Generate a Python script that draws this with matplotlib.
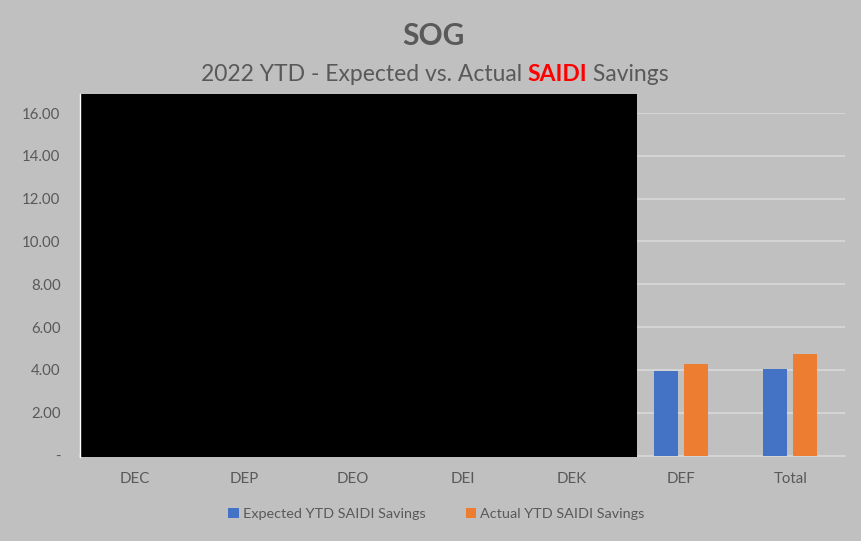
import matplotlib
matplotlib.use("Agg")
import matplotlib.pyplot as plt
import numpy as np
from matplotlib.patches import Rectangle

categories = ["DEC", "DEP", "DEO", "DEI", "DEK", "DEF", "Total"]
# values for the first five regions are hidden under the black box in the source
expected = [np.nan, np.nan, np.nan, np.nan, np.nan, 3.95, 4.03]
actual = [np.nan, np.nan, np.nan, np.nan, np.nan, 4.28, 4.74]
yticks = [0, 2, 4, 6, 8, 10, 12, 14, 16]

BG = "#c0c0c0"
TXT = "#595959"
BLUE = "#4472c4"
ORANGE = "#ed7d31"

plt.rcParams["font.family"] = ["Lato", "DejaVu Sans"]

fig = plt.figure(figsize=(8.61, 5.41), dpi=100, facecolor=BG)
ax = fig.add_axes([0.0929, 0.158, 0.8885, 0.633], facecolor=BG)

x = np.arange(len(categories))
w = 0.22
gap = 0.055
ax.bar(x - (w + gap) / 2, expected, w, color=BLUE, label="Expected YTD SAIDI Savings", zorder=3)
ax.bar(x + (w + gap) / 2, actual, w, color=ORANGE, label="Actual YTD SAIDI Savings", zorder=3)

ax.set_xlim(-0.5, len(categories) - 0.5)
ax.set_ylim(0, 16)
ax.set_yticks(yticks)
ax.set_yticklabels(["-" if v == 0 else f"{v:.2f}" for v in yticks])
ax.set_xticks(x)
ax.set_xticklabels(categories)
ax.tick_params(axis="both", length=0, colors=TXT, labelsize=10.8)
ax.tick_params(axis="x", pad=12)
ax.tick_params(axis="y", pad=14)
ax.grid(axis="y", color="#d4d4d4", linewidth=1.5, zorder=0)
for side in ["top", "right", "left"]:
    ax.spines[side].set_visible(False)
ax.spines["bottom"].set_color("#d4d4d4")
ax.spines["bottom"].set_linewidth(1.5)

fig.text(0.503, 0.933, "SOG", ha="center", va="center", fontsize=21.5,
         fontweight="bold", color=TXT)

# subtitle with red SAIDI
parts = [("2022 YTD - Expected vs. Actual ", TXT, "normal"),
         ("SAIDI", "#ff0000", "bold"),
         (" Savings", TXT, "normal")]
fig.canvas.draw()
r = fig.canvas.get_renderer()
texts = []
total = 0
for s, c, fw in parts:
    t = fig.text(0, 0.862, s, fontsize=16.5, color=c, fontweight=fw, va="center")
    bb = t.get_window_extent(r)
    texts.append((t, bb.width))
    total += bb.width
cx = 0.505 * fig.bbox.width
xpos = cx - total / 2
for t, wd in texts:
    t.set_x(xpos / fig.bbox.width)
    xpos += wd

fig.legend(loc="center", bbox_to_anchor=(0.507, 0.05), ncol=2, frameon=False,
           fontsize=10.4, labelcolor=TXT, handlelength=0.7, handleheight=0.7,
           handletextpad=0.3, columnspacing=2.8)

# redaction box drawn over the first five regions
fig.patches.append(Rectangle((0.0929, 0.1553), 0.647, 0.671, transform=fig.transFigure,
                             facecolor="black", edgecolor="none", zorder=10))
fig.lines.append(plt.Line2D([0.0929, 0.0929], [0.1553, 0.8263], transform=fig.transFigure,
                            color="white", linewidth=1, zorder=11))

fig.savefig("out.png", dpi=100, facecolor=BG)
